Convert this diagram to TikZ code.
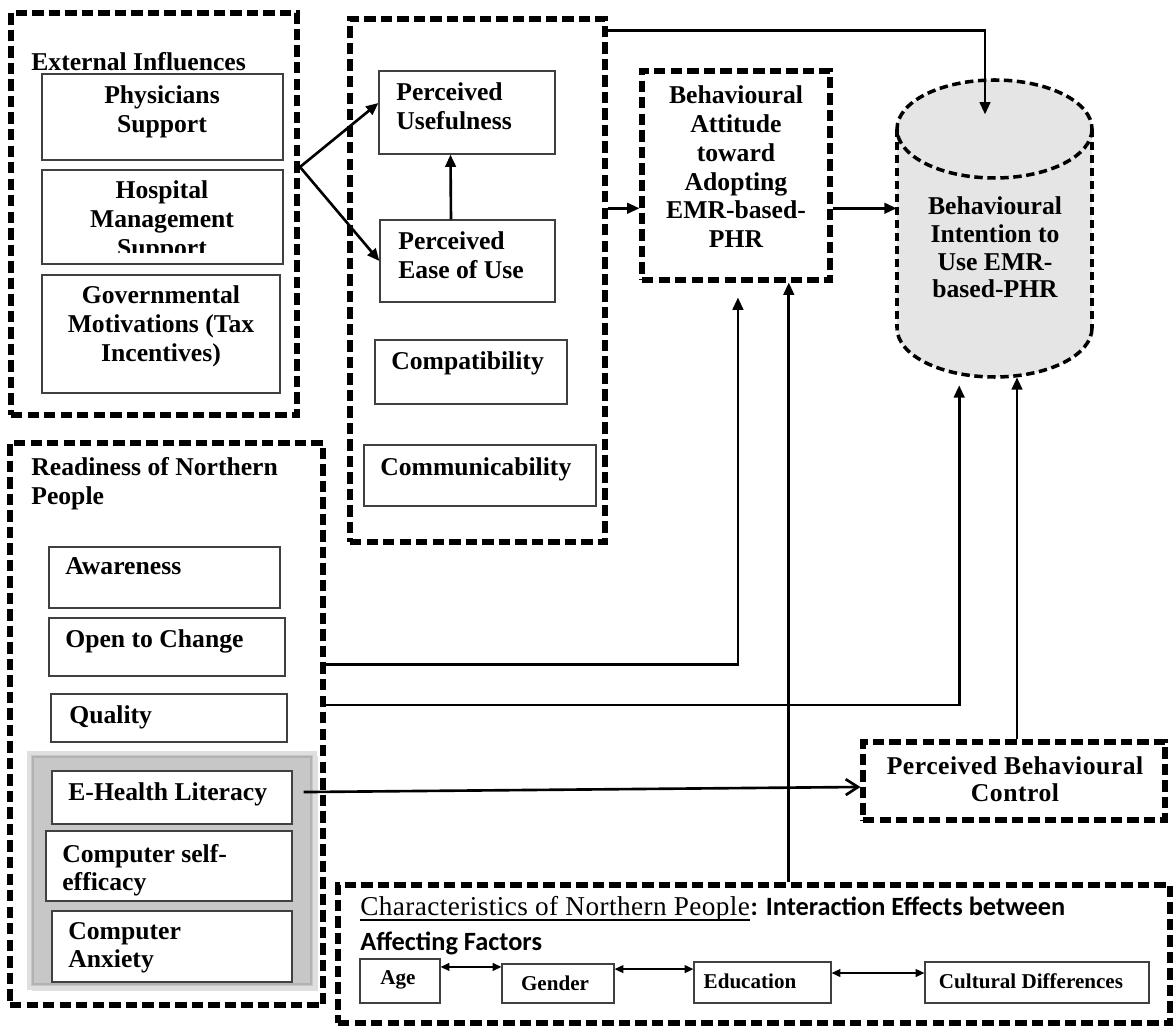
\documentclass[tikz,border=0pt]{standalone}
\usepackage{fontspec}
\setmainfont{Liberation Serif}
\newfontfamily\calfont{Carlito}
\usetikzlibrary{fit,arrows.meta,shadows}
\begin{document}
\begin{tikzpicture}[x=0.02cm,y=-0.02cm,
  outer/.style={draw, line width=2.9pt, dash pattern=on 6.5pt off 2.9pt, inner sep=0pt},
  inbox/.style={draw=black!75, line width=0.7pt, inner sep=0pt},
  wbox/.style={inbox, fill=white},
  txt/.style={font=\fontsize{14.6}{16.4}\selectfont\bfseries, inner sep=0pt, align=center, anchor=north},
  ltxt/.style={txt, align=left, anchor=north west},
  stxt/.style={font=\fontsize{12}{14}\selectfont\bfseries, inner sep=0pt},
  arr/.style={line width=1.5pt, -{Triangle[length=7pt,width=6pt]}},
  dbl/.style={line width=0.8pt, {Triangle[length=5pt,width=4.5pt]}-{Triangle[length=5pt,width=4.5pt]}},
  cylline/.style={line width=2pt, dash pattern=on 4.8pt off 2.6pt}
]
\path[use as bounding box, fill=white] (0,0) rectangle (1175,1026);

% ---------- External influences ----------
\node[outer, fit={(11,13)(297,415)}] (ext) {};
\node[txt, anchor=base west] (extT) at (31,71) {External Influences};
\node[inbox, fit={(42,74)(283,160)}] (phys) {};
\node[txt] (physT) at (162,85.5) {Physicians\\Support};
\node[inbox, fit={(42,170)(283,264)}] (hosp) {};
\begin{scope}
  \clip (42,170) rectangle (283,253);
  \node[txt] (hospT) at (162,180.5) {Hospital\\Management\\Support};
\end{scope}
\node[inbox, fit={(42,275)(280,393)}] (gov) {};
\node[txt] (govT) at (161,285.5) {Governmental\\Motivations (Tax\\Incentives)};

% ---------- TAM box ----------
\node[outer, fit={(350,19)(605,542)}] (mid) {};
\node[inbox, fit={(379,71)(555,154)}] (pu) {};
\node[ltxt] (puT) at (396,82.5) {Perceived\\Usefulness};
\node[inbox, fit={(380,220)(555,302)}] (peou) {};
\node[ltxt] (peouT) at (398,231.5) {Perceived\\Ease of Use};
\node[inbox, fit={(375,340)(567,404)}] (comp) {};
\node[ltxt] (compT) at (391,351.5) {Compatibility};
\node[inbox, fit={(364,445)(596,506)}] (comm) {};
\node[ltxt] (commT) at (380,457.5) {Communicability};

% ---------- Behavioural attitude ----------
\node[outer, fit={(642,71)(830,280)}] (ba) {};
\node[txt] (baT) at (736,85.5) {Behavioural\\Attitude\\toward\\Adopting\\EMR-based-\\PHR};

% ---------- Cylinder ----------
\node[inner sep=0pt, fit={(897,80)(1092,377)}] (cyl) {};
\fill[gray!20] (897,129) rectangle (1092,328);
\fill[gray!20] (994.5,129) ellipse [x radius=97.5, y radius=49];
\fill[gray!20] (994.5,328) ellipse [x radius=97.5, y radius=49];
\draw[cylline] (994.5,129) ellipse [x radius=97.5, y radius=49];
\draw[cylline] (897,129) -- (897,328);
\draw[cylline] (1092,129) -- (1092,328);
\begin{scope}
  \clip (880,328) rectangle (1110,395);
  \draw[cylline] (994.5,328) ellipse [x radius=97.5, y radius=49];
\end{scope}
\node[txt, font=\fontsize{14.6}{15.8}\selectfont\bfseries] (cylT) at (995,196.5) {Behavioural\\Intention to\\Use EMR-\\based-PHR};

% ---------- Readiness ----------
\node[outer, fit={(10,443)(323,1005)}] (rdy) {};
\node[ltxt] (rdyT) at (31,457.5) {Readiness of Northern\\People};
\node[inbox, fit={(49,547)(280,608)}] (aw) {};
\node[ltxt] (awT) at (65,557.5) {Awareness};
\node[inbox, fit={(49,618)(285,676)}] (open) {};
\node[ltxt] (openT) at (65,629.5) {Open to Change};
\node[inbox, fit={(51,694)(287,742)}] (qual) {};
\node[ltxt] (qualT) at (69,705.5) {Quality};
\node[inner sep=0pt, fit={(29,753)(315,988)}, fill=gray!44, draw=gray!25, line width=2pt,
      drop shadow={opacity=0.25, shadow xshift=1.5pt, shadow yshift=-1.5pt}] (panel) {};
\draw[gray!60, line width=1pt] (33,757) rectangle (311,984);
\node[wbox, fit={(52,771)(292,824)}] (ehl) {};
\node[ltxt] (ehlT) at (68,782.5) {E-Health Literacy};
\node[wbox, fit={(46,831)(292,901)}] (cse) {};
\node[ltxt, font=\fontsize{14.6}{15.8}\selectfont\bfseries] (cseT) at (62,844.5) {Computer self-\\efficacy};
\node[wbox, fit={(52,911)(292,982)}] (anx) {};
\node[ltxt, font=\fontsize{14.6}{15.8}\selectfont\bfseries] (anxT) at (68,922.5) {Computer\\Anxiety};

% ---------- Perceived behavioural control ----------
\node[outer, fit={(863,742)(1165,820)}] (pbc) {};
\node[txt, font=\fontsize{14.6}{15}\selectfont\bfseries\addfontfeature{LetterSpace=2}] (pbcT) at (1015,756.5) {Perceived Behavioural\\Control};

% ---------- Characteristics ----------
\node[outer, fit={(338,885)(1170,1023)}] (chr) {};
\node[inner sep=0pt, anchor=base west, font=\fontsize{15.5}{17}\selectfont\addfontfeature{LetterSpace=1.5}] (chrA) at (360,915)
  {Characteristics of Northern People};
\draw[line width=1.1pt] ([yshift=-2.6pt]chrA.base west) -- ([yshift=-2.6pt]chrA.base east);
\node[inner sep=0pt, anchor=base west, font=\fontsize{15}{17}\selectfont\calfont\bfseries] (chrB) at (chrA.base east) {: Interaction Effects between};
\node[inner sep=0pt, anchor=base west, font=\fontsize{15}{17}\selectfont\calfont\bfseries] (chrT2) at (360,950) {Affecting Factors};
\node[inbox, fit={(360,959)(440,1003)}] (age) {};
\node[stxt] (ageT) at (398,980) {Age};
\node[inbox, fit={(502,964)(614,1003)}] (gen) {};
\node[stxt] (genT) at (555,983) {Gender};
\node[inbox, fit={(694,962)(831,1003)}] (edu) {};
\node[stxt] (eduT) at (750,981) {Education};
\node[inbox, fit={(925,962)(1149,1003)}] (cul) {};
\node[stxt] (culT) at (1031,981) {Cultural Differences};

\draw[dbl] ([yshift=8pt]age.east) coordinate (a1) -- (a1 -| gen.west);
\draw[dbl] ([yshift=8.2pt]gen.east) coordinate (a2) -- (a2 -| edu.west);
\draw[dbl] ([yshift=5.4pt]edu.east) coordinate (a3) -- (a3 -| cul.west);

% ---------- Connectors ----------
\coordinate (fork) at (300,167);
\draw[arr] (fork) -- ([yshift=5.4pt]pu.west);
\draw[arr] (fork) -- (peou.west);
\draw[arr] ([xshift=-9.4pt]peou.north) -- ([xshift=-9.4pt]pu.south);
\draw[arr] ([yshift=41.1pt]mid.east) coordinate (m1) -- (m1 -| ba.west);
\draw[arr] (m1 -| ba.east) -- (m1 -| cyl.west);
\draw[arr] ([yshift=-7.9pt]mid.north east) -| ([xshift=-5.4pt,yshift=-19.8pt]cyl.north);
\draw[arr] ([yshift=34pt]rdy.east) -| ([xshift=1.1pt,yshift=-8.5pt]ba.south);
\draw[arr] ([yshift=10.8pt]rdy.east) -| ([xshift=-20.1pt,yshift=-4.5pt]cyl.south);
\draw[arr] ([xshift=19.8pt]chr.north) coordinate (v1) -- (v1 |- ba.south);
\draw[arr] ([xshift=1.7pt]pbc.north) coordinate (v2) -- (v2 |- cyl.south);
\draw[line width=1.5pt, -{Straight Barb[length=7pt,width=9pt]}] ([xshift=6.2pt,yshift=3.1pt]ehl.east) -- ([yshift=-3.4pt]pbc.west);
\end{tikzpicture}
\end{document}
